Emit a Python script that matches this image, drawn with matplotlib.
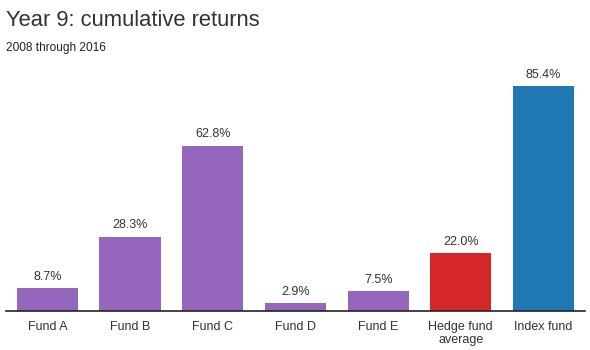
import numpy as np
import matplotlib
matplotlib.use("Agg")
import matplotlib.pyplot as plt

plt.rcParams["font.family"] = ["Liberation Sans", "DejaVu Sans"]

categories = ["Fund A", "Fund B", "Fund C", "Fund D", "Fund E",
              "Hedge fund\naverage", "Index fund"]
returns = [8.7, 28.3, 62.8, 2.9, 7.5, 22.0, 85.4]
colors = ["#9467bd"] * 5 + ["#d62728", "#1f77b4"]

fig = plt.figure(figsize=(5.9, 3.5), dpi=100)
ax = fig.add_axes([0.0102, 0.1114, 0.981, 0.677])

x = np.arange(len(categories))
bars = ax.bar(x, returns, width=0.74, color=colors)

for b, v in zip(bars, returns):
    ax.annotate(f"{v:.1f}%", (b.get_x() + b.get_width() / 2, v),
                xytext=(0, 4), textcoords="offset points",
                ha="center", va="bottom", fontsize=9, color="#333333")

ax.set_xlim(-0.5, len(categories) - 0.5)
ax.set_ylim(0, 90)
ax.set_xticks(x)
ax.set_xticklabels(categories, fontsize=9, color="#333333", linespacing=1.15)
ax.tick_params(axis="x", length=0, pad=7)
ax.set_yticks([])
for side in ["top", "right", "left"]:
    ax.spines[side].set_visible(False)
ax.spines["bottom"].set_color("#222222")
ax.spines["bottom"].set_linewidth(1.2)

# title and subtitle
fig.text(0.0102, 1 - 26 / 350, "Year 9: cumulative returns",
         fontsize=15.8, color="#333333", ha="left", va="baseline")
fig.text(0.0102, 1 - 51 / 350, "2008 through 2016",
         fontsize=8.6, color="#222222", ha="left", va="baseline")

fig.savefig("out.png", dpi=100)
